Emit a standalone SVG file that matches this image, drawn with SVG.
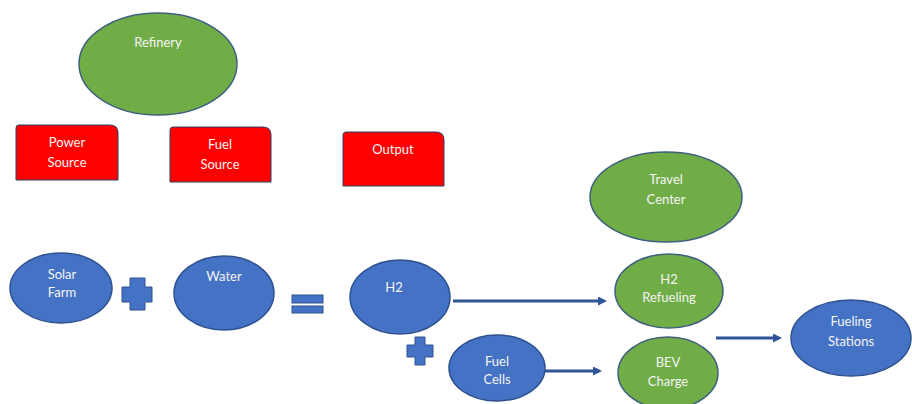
<svg xmlns="http://www.w3.org/2000/svg" width="912" height="404" viewBox="0 0 912 404">
<defs>
<style>
.g{fill:#70ad47;stroke:#3f5f7f;stroke-width:1.5}
.b{fill:#4472c4;stroke:#2f528f;stroke-width:1.5}
.r{fill:#ff0000;stroke:#2f3f6f;stroke-width:1}
.t{font-family:Lato,"Open Sans","Liberation Sans",sans-serif;font-size:13px;fill:#f4f4f4;text-anchor:middle}
.c{stroke:#2f5597;stroke-width:3;fill:none;marker-end:url(#ah)}
.s{fill:#4472c4;stroke:#2f528f;stroke-width:1}
</style>
<marker id="ah" markerWidth="3" markerHeight="3" refX="2" refY="1.5" orient="auto" markerUnits="strokeWidth">
<path d="M0,0 L3,1.5 L0,3 Z" fill="#2f5597"/>
</marker>
</defs>
<rect width="912" height="404" fill="#ffffff"/>
<g id="refinery"><ellipse class="g" cx="158" cy="64" rx="79" ry="51"/><text class="t" x="158" y="47">Refinery</text></g>
<g id="power-source"><path class="r" d="M19,125 H110 Q118,125 118,133 V180 H16 V128 Q16,125 19,125 Z"/><text class="t" x="67" y="147">Power</text><text class="t" x="67" y="167">Source</text></g>
<g id="fuel-source"><path class="r" d="M173,127 H263 Q271,127 271,135 V182 H170 V130 Q170,127 173,127 Z"/><text class="t" x="220" y="149">Fuel</text><text class="t" x="220" y="169">Source</text></g>
<g id="output"><path class="r" d="M346,132 H436 Q444,132 444,140 V186 H343 V135 Q343,132 346,132 Z"/><text class="t" x="393" y="154">Output</text></g>
<g id="solar-farm"><ellipse class="b" cx="61" cy="288" rx="51" ry="35"/><text class="t" x="62" y="279">Solar</text><text class="t" x="62" y="297">Farm</text></g>
<g id="plus1"><path class="s" d="M130,278 H145 V287 H152 V302 H145 V310 H130 V302 H122 V287 H130 Z"/></g>
<g id="water"><ellipse class="b" cx="224" cy="293" rx="50" ry="37"/><text class="t" x="224" y="281">Water</text></g>
<g id="equals"><rect class="s" x="292" y="295" width="31" height="8"/><rect class="s" x="292" y="306" width="31" height="7"/></g>
<g id="h2"><ellipse class="b" cx="400" cy="297" rx="50" ry="37"/><text class="t" x="394" y="292">H2</text></g>
<g id="plus2"><path class="s" d="M415,337 H425 V345 H433 V357 H425 V365 H415 V357 H407 V345 H415 Z"/></g>
<g id="fuel-cells"><ellipse class="b" cx="497" cy="368" rx="48" ry="33"/><text class="t" x="497" y="366">Fuel</text><text class="t" x="497" y="384">Cells</text></g>
<g id="travel-center"><ellipse class="g" cx="666" cy="197" rx="76" ry="45"/><text class="t" x="666" y="184">Travel</text><text class="t" x="666" y="204">Center</text></g>
<g id="h2-refueling"><ellipse class="g" cx="669" cy="291" rx="54" ry="37"/><text class="t" x="669" y="284">H2</text><text class="t" x="669" y="302">Refueling</text></g>
<g id="bev-charge"><ellipse class="g" cx="668" cy="373" rx="50" ry="36"/><text class="t" x="668" y="367">BEV</text><text class="t" x="668" y="386">Charge</text></g>
<g id="fueling-stations"><ellipse class="b" cx="851" cy="338" rx="60" ry="38"/><text class="t" x="851" y="326">Fueling</text><text class="t" x="851" y="346">Stations</text></g>
<g id="connectors">
<line class="c" x1="453" y1="301" x2="604" y2="301"/>
<line class="c" x1="545" y1="371" x2="599" y2="371"/>
<line class="c" x1="716" y1="338" x2="779" y2="338"/>
</g>
</svg>
